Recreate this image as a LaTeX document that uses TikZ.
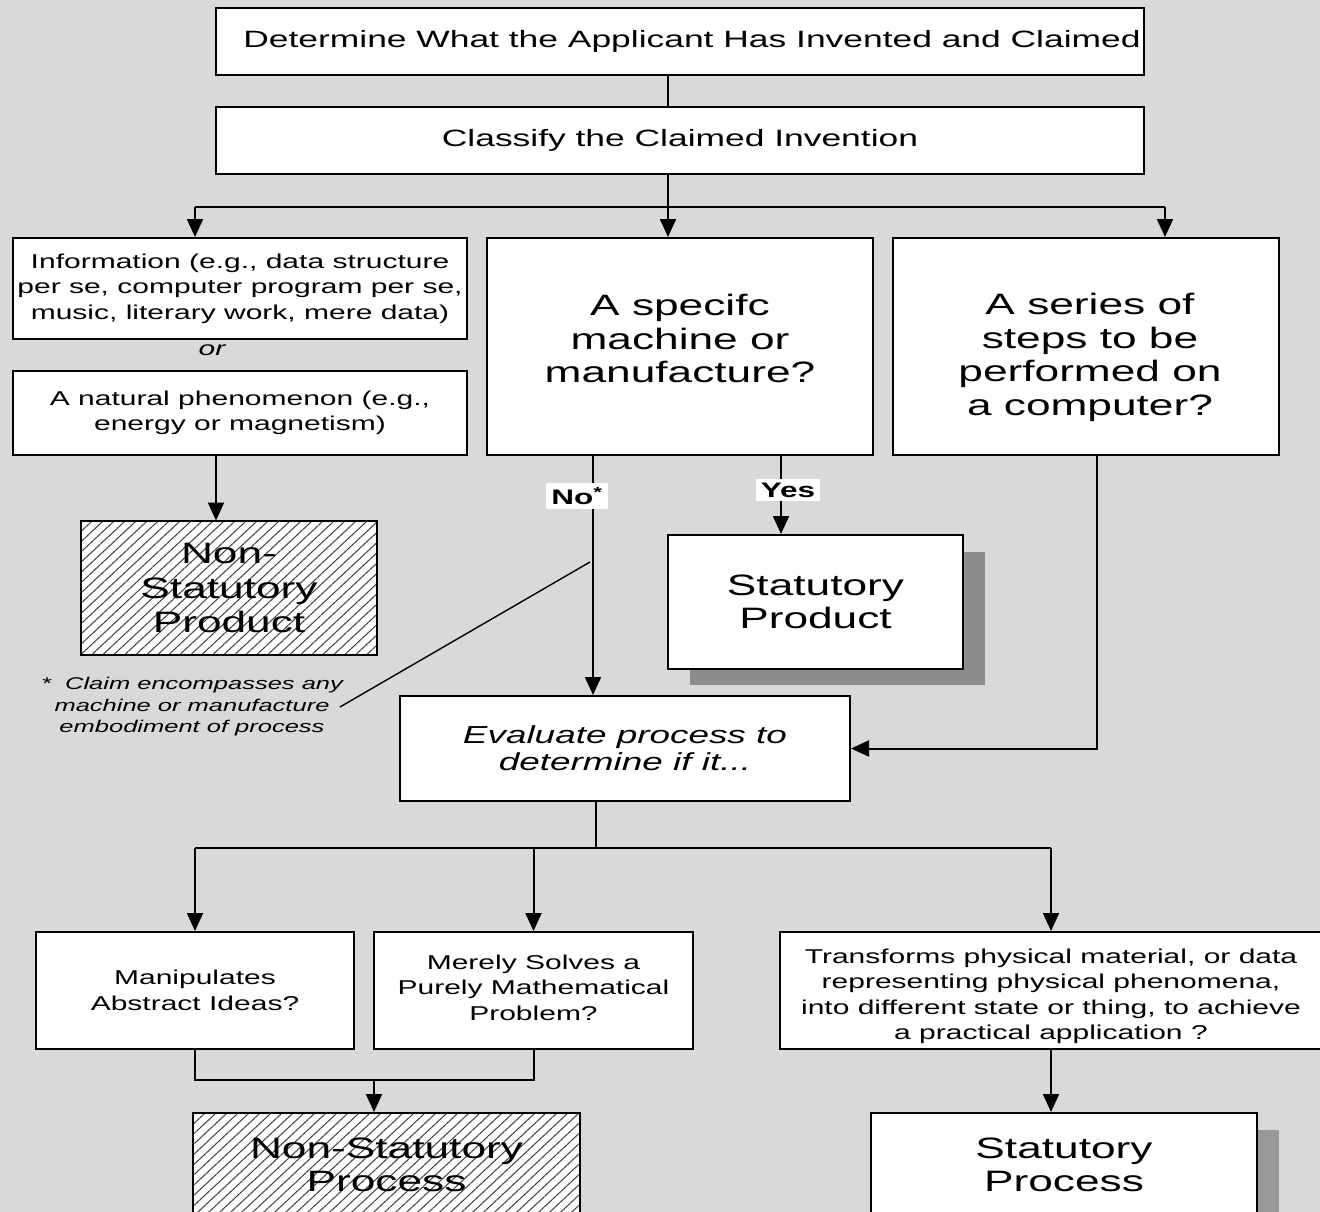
\documentclass[tikz,border=0pt]{standalone}
\usepackage{fontspec}
\setmainfont{Liberation Sans}[FakeStretch=1.5]
\usetikzlibrary{positioning, arrows.meta, calc, patterns.meta}
\definecolor{bggray}{HTML}{D9D9D9}

\begin{document}
\begin{tikzpicture}[x=1pt, y=-1pt, line width=2pt,
        box/.style={draw, fill=white, line width=2pt, inner sep=0pt, align=center},
        txt/.style={font=\fontsize{20}{25.5}\selectfont},
        head/.style={font=\fontsize{23.6}{28}\selectfont},
        big/.style={font=\fontsize{29.5}{33.5}\selectfont},
        hatch/.style={preaction={fill=white}, pattern={Lines[angle=43,distance=7.5pt,line width=1pt]}, pattern color=black!75},
        lbl/.style={fill=white, inner xsep=5pt, inner ysep=4pt, font=\bfseries\fontsize{21}{23}\selectfont},
        arr/.style={-{Triangle[width=16pt,length=18pt]}}]
        \fill[bggray] (0,0) rectangle (1320,1212);
        \useasboundingbox (0,0) rectangle (1320,1212);

        % top of the chart
        \node[box, head, minimum width=928, minimum height=67,
              label={[head, xshift=12]center:Determine What the Applicant Has Invented and Claimed}] (det) at (680,41.5) {};
        \node[box, head, minimum width=928, minimum height=67] (cls) at (680,140.5) {Classify the Claimed Invention};

        % three kinds of claimed invention
        \node[box, txt, minimum width=454, minimum height=101] (info) at (240,288.5) {Information (e.g., data structure\\per se, computer program per se,\\music, literary work, mere data)};
        \node[txt, font=\itshape\fontsize{20}{24}\selectfont] (orword) at (212,350) {or};
        \node[box, txt, minimum width=454, minimum height=84] (nat) at (240,413) {A natural phenomenon (e.g.,\\energy or magnetism)};
        \node[box, minimum width=386, minimum height=217,
              label={[big, align=center, yshift=8]center:{A specifc\\machine or\\manufacture?}}] (spec) at (680,346.5) {};
        \node[box, minimum width=386, minimum height=217,
              label={[big, align=center, yshift=-11, xshift=4]center:{A series of\\steps to be\\performed on\\a computer?}}] (series) at (1086,346.5) {};

        % products
        \node[box, big, hatch, minimum width=296, minimum height=134, font=\fontsize{29.5}{34.5}\selectfont] (nsp) at (229,588) {Non-\\Statutory\\Product};
        \fill[black!45] (690,552) rectangle (985,685);
        \node[box, big, minimum width=295, minimum height=134] (sprod) at (815.5,602) {Statutory\\Product};

        \node[align=center, inner sep=0pt, font=\itshape\fontsize{17}{21.5}\selectfont] (fnote) at (192,707) {*\ \ Claim encompasses any\\machine or manufacture\\embodiment of process};

        % process branch
        \node[box, minimum width=450, minimum height=105, font=\itshape\fontsize{24.6}{27}\selectfont] (eval) at (625,748.5) {Evaluate process to\\determine if it...};
        \node[box, txt, minimum width=318, minimum height=117] (manip) at (195,990.5) {Manipulates\\Abstract Ideas?};
        \node[box, txt, minimum width=319, minimum height=117,
              label={[txt, align=center, yshift=3]center:{Merely Solves a\\Purely Mathematical\\Problem?}}] (merely) at (533.5,990.5) {};
        \node[box, txt, minimum width=542, minimum height=117,
              label={[txt, align=center, yshift=-6]center:{Transforms physical material, or data\\representing physical phenomena,\\into different state or thing, to achieve\\a practical application ?}}] (trans) at (1051,990.5) {};
        \node[box, big, hatch, minimum width=387, minimum height=104] (nsproc) at (386.5,1165) {Non-Statutory\\Process};
        \fill[black!40] (893,1130) rectangle (1279,1240);
        \node[box, big, minimum width=386, minimum height=104] (stproc) at (1064,1165) {Statutory\\Process};

        % branch points
        \coordinate (f1) at (668,207);
        \coordinate (f1l) at (195,207);
        \coordinate (f1r) at (1165,207);
        \coordinate (n1) at (216,455);
        \coordinate (nox) at (593,455);
        \coordinate (yesx) at (781,455);
        \coordinate (sx) at (1097,455);
        \coordinate (nopt) at (590,562);
        \coordinate (f2) at (596,848);
        \coordinate (f2l) at (195,848);
        \coordinate (f2r) at (1051,848);
        \coordinate (j) at (374,1080);

        \draw (det.south -| f1) -- (cls.north -| f1);
        \draw (cls.south -| f1) -- (f1);
        \draw (f1l) -- (f1r);
        \draw (eval.south -| f2) -- (f2);
        \draw (f2l) -- (f2r);
        \draw (manip.south) |- (j) -| (merely.south);
        \draw[line width=1.4pt] ($(fnote.east)+(-4,0)$) -- (nopt);

        \path[arr]
        (f1l) edge (f1l |- info.north)
        (f1) edge (f1 |- spec.north)
        (f1r) edge (f1r |- series.north)
        (n1) edge (n1 |- nsp.north)
        (nox) edge (nox |- eval.north)
        (yesx) edge (yesx |- sprod.north)
        (f2l) edge (manip.north)
        (f2 -| merely.north) edge (merely.north)
        (f2r) edge (trans.north)
        (j) edge (j |- nsproc.north)
        (trans.south) edge (trans.south |- stproc.north)
        ;
        \draw[arr] (sx) |- (eval.east);

        \node[lbl] (nolbl) at (577,496) {No\textsuperscript{*}};
        \node[lbl] (yeslbl) at (788,490) {Yes};
    \end{tikzpicture}
\end{document}
